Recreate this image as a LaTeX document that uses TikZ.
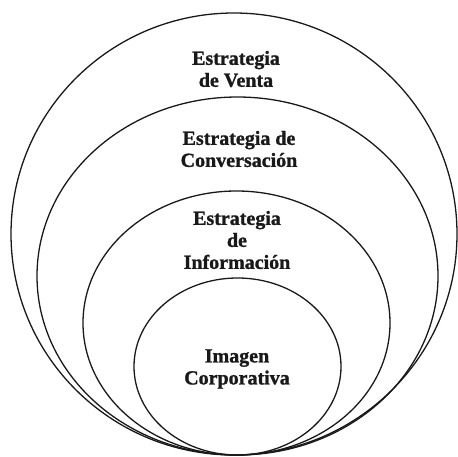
\documentclass[tikz,border=0pt]{standalone}
\usepackage{fontspec}
\setmainfont{Liberation Serif}[BoldFont={Liberation Serif Bold}, BoldFeatures={FakeBold=1.2}]
\usetikzlibrary{shapes.geometric}
\begin{document}
\begin{tikzpicture}[x=1pt,y={(0pt,-1pt)},
  ring/.style={ellipse, draw=black!90, line width=1.3pt, inner sep=0pt, outer sep=0pt},
  lbl/.style={align=center, font=\bfseries\fontsize{20}{22}\selectfont, text=black!90, inner sep=0pt}]
\useasboundingbox (0,0) rectangle (458,457);
\node[ring, minimum width=446pt, minimum height=442pt] (venta) at (234,234) {};
\node[ring, minimum width=401pt, minimum height=358pt] (conv) at (237.5,276) {};
\node[ring, minimum width=307pt, minimum height=264pt] (info) at (236.5,323) {};
\node[ring, minimum width=207pt, minimum height=177pt] (imagen) at (237.5,366.5) {};
\node[lbl] (tventa) at (236,69) {Estrategia\\de Venta};
\node[lbl] (tconv) at (239,149) {Estrategia de\\Conversación};
\node[lbl] (tinfo) at (237,240) {Estrategia\\de\\Información};
\node[lbl] (timagen) at (237,369) {Imagen\\Corporativa};
\end{tikzpicture}
\end{document}
